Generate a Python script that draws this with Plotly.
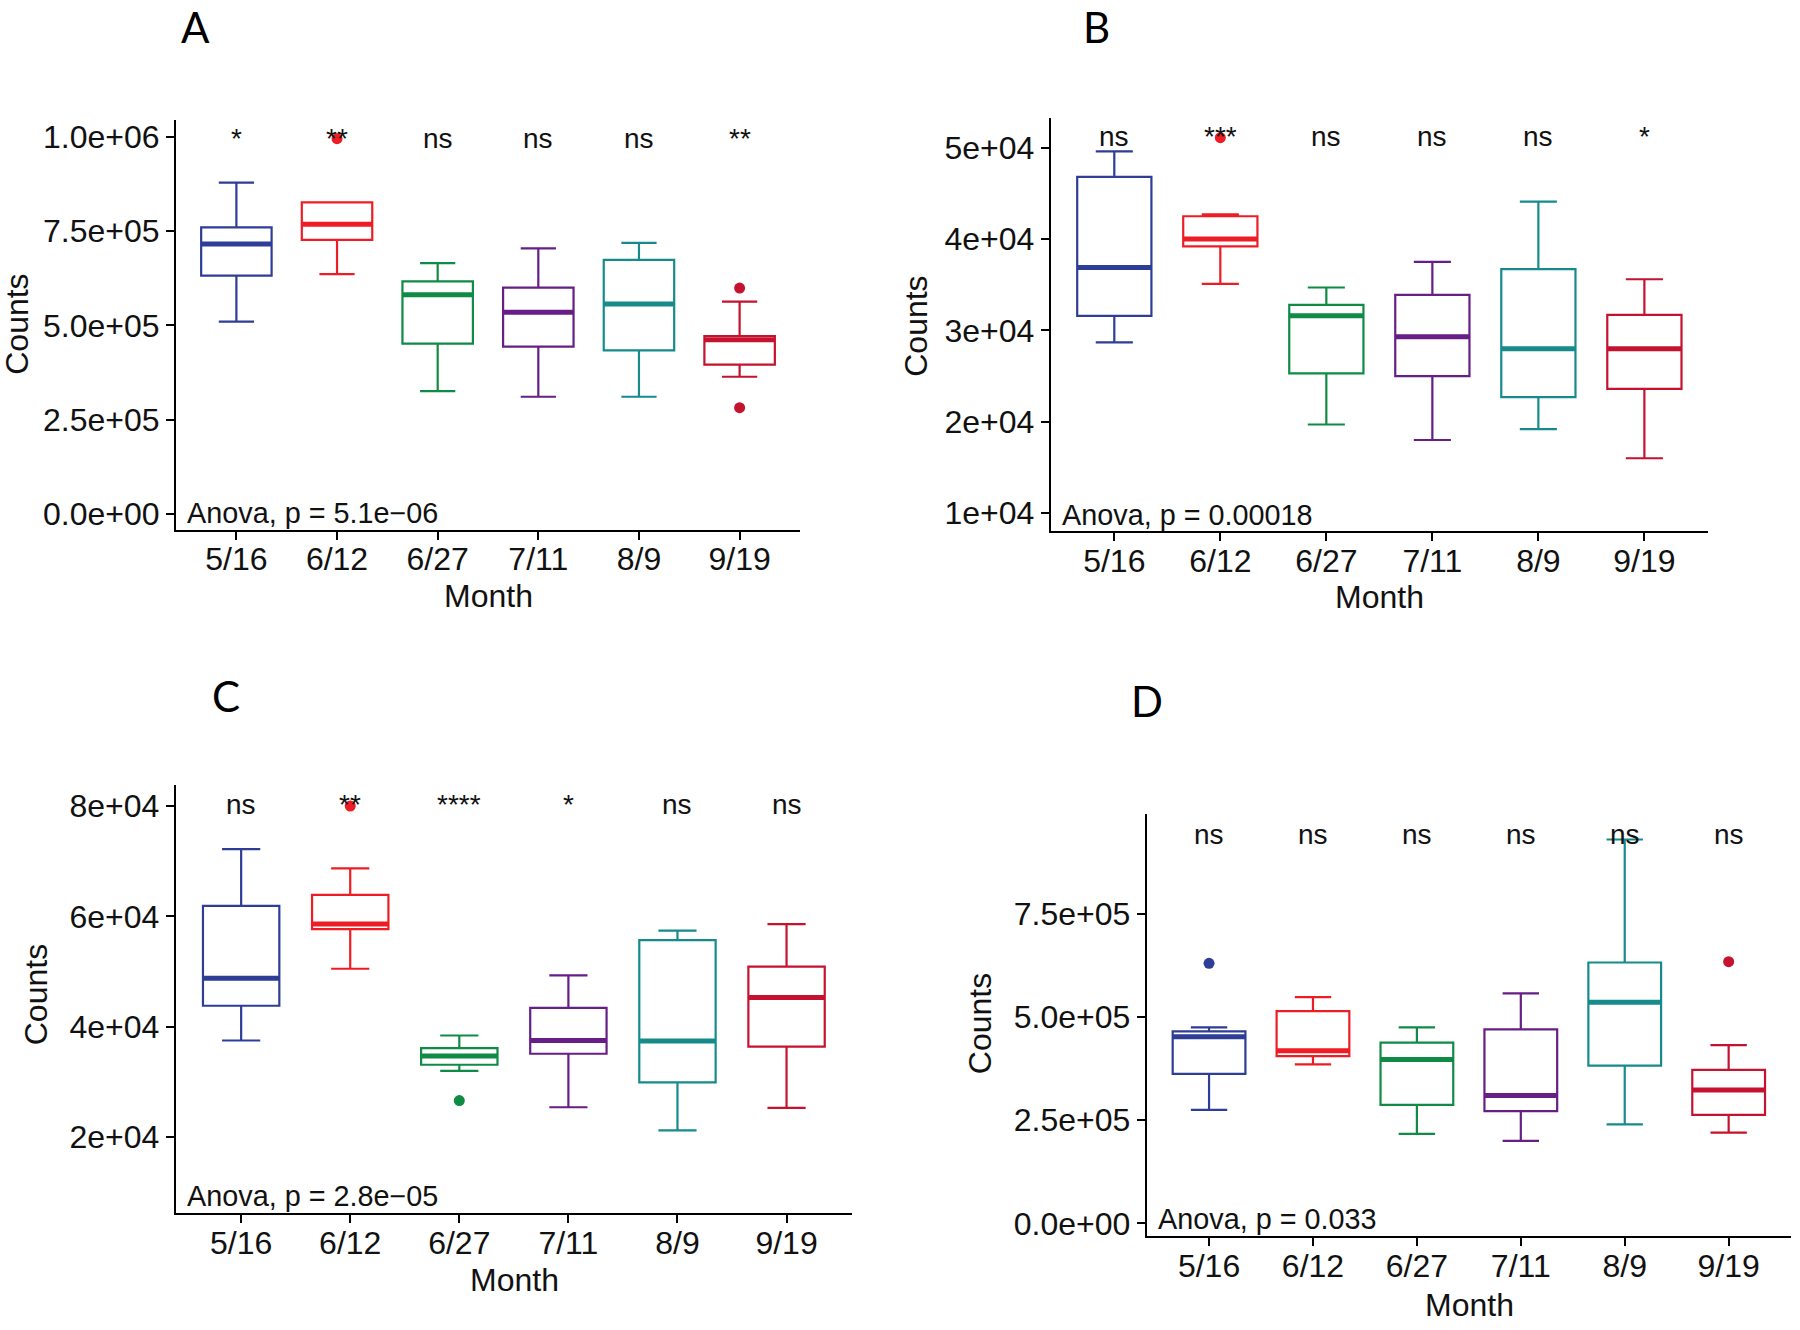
import plotly.graph_objects as go

# ---------------- data ----------------
months = ["5/16", "6/12", "6/27", "7/11", "8/9", "9/19"]
colors = ["#2E3D96", "#EE1C24", "#0F8B45", "#671E86", "#178B8B", "#C4122F"]

# Panel A
a_low = [0.510e6, 0.636e6, 0.326e6, 0.311e6, 0.311e6, 0.364e6]
a_q1 = [0.632e6, 0.727e6, 0.4515e6, 0.444e6, 0.434e6, 0.396e6]
a_med = [0.716e6, 0.768e6, 0.581e6, 0.535e6, 0.557e6, 0.462e6]
a_q3 = [0.760e6, 0.826e6, 0.617e6, 0.600e6, 0.674e6, 0.472e6]
a_high = [0.8785e6, 0.826e6, 0.665e6, 0.704e6, 0.719e6, 0.563e6]
a_out_month = ["6/12", "9/19", "9/19"]
a_out_val = [0.995e6, 0.599e6, 0.282e6]
a_sig = ["*", "**", "ns", "ns", "ns", "**"]
a_anova = "Anova, p = 5.1e\u221206"
a_ticks = [0, 2.5e5, 5.0e5, 7.5e5, 1.0e6]
a_ticktext = ["0.0e+00", "2.5e+05", "5.0e+05", "7.5e+05", "1.0e+06"]

# Panel B
b_low = [2.87e4, 3.51e4, 1.97e4, 1.80e4, 1.92e4, 1.60e4]
b_q1 = [3.16e4, 3.92e4, 2.53e4, 2.50e4, 2.27e4, 2.36e4]
b_med = [3.69e4, 4.00e4, 3.16e4, 2.93e4, 2.80e4, 2.80e4]
b_q3 = [4.68e4, 4.25e4, 3.28e4, 3.39e4, 3.67e4, 3.17e4]
b_high = [4.96e4, 4.27e4, 3.47e4, 3.75e4, 4.41e4, 3.56e4]
b_out_month = ["6/12"]
b_out_val = [5.11e4]
b_sig = ["ns", "***", "ns", "ns", "ns", "*"]
b_anova = "Anova, p = 0.00018"
b_ticks = [1e4, 2e4, 3e4, 4e4, 5e4]
b_ticktext = ["1e+04", "2e+04", "3e+04", "4e+04", "5e+04"]

# Panel C
c_low = [3.75e4, 5.05e4, 3.20e4, 2.54e4, 2.12e4, 2.53e4]
c_q1 = [4.38e4, 5.77e4, 3.31e4, 3.51e4, 2.99e4, 3.64e4]
c_med = [4.88e4, 5.86e4, 3.47e4, 3.75e4, 3.74e4, 4.53e4]
c_q3 = [6.19e4, 6.39e4, 3.61e4, 4.34e4, 5.57e4, 5.09e4]
c_high = [7.22e4, 6.87e4, 3.84e4, 4.93e4, 5.74e4, 5.86e4]
c_out_month = ["6/12", "6/27"]
c_out_val = [8.0e4, 2.66e4]
c_sig = ["ns", "**", "****", "*", "ns", "ns"]
c_anova = "Anova, p = 2.8e\u221205"
c_ticks = [2e4, 4e4, 6e4, 8e4]
c_ticktext = ["2e+04", "4e+04", "6e+04", "8e+04"]

# Panel D
d_low = [2.75e5, 3.85e5, 2.17e5, 2.00e5, 2.40e5, 2.20e5]
d_q1 = [3.62e5, 4.05e5, 2.87e5, 2.72e5, 3.82e5, 2.63e5]
d_med = [4.52e5, 4.18e5, 3.97e5, 3.10e5, 5.36e5, 3.23e5]
d_q3 = [4.65e5, 5.14e5, 4.38e5, 4.70e5, 6.32e5, 3.72e5]
d_high = [4.75e5, 5.48e5, 4.75e5, 5.57e5, 9.30e5, 4.32e5]
d_out_month = ["5/16", "9/19"]
d_out_val = [6.30e5, 6.34e5]
d_sig = ["ns", "ns", "ns", "ns", "ns", "ns"]
d_anova = "Anova, p = 0.033"
d_ticks = [0, 2.5e5, 5.0e5, 7.5e5]
d_ticktext = ["0.0e+00", "2.5e+05", "5.0e+05", "7.5e+05"]

# ---------------- layout config ----------------
W, H = 1800, 1330
FONT = "Liberation Sans"
TXT = "#111111"
TICK_SIZE = 32
TITLE_SIZE = 32
LABEL_SIZE = 28

panels = [
    dict(name="A", low=a_low, q1=a_q1, med=a_med, q3=a_q3, high=a_high,
         om=a_out_month, ov=a_out_val, sig=a_sig, anova=a_anova,
         ticks=a_ticks, ticktext=a_ticktext,
         xpx=(176, 800), ypx=(120, 531.7), yrange=(-41458, 1045700), sigy=0.969e6,
         letter=(195, 27), ytitle=(17, 326), xtitle=(488, 598)),
    dict(name="B", low=b_low, q1=b_q1, med=b_med, q3=b_q3, high=b_high,
         om=b_out_month, ov=b_out_val, sig=b_sig, anova=b_anova,
         ticks=b_ticks, ticktext=b_ticktext,
         xpx=(1050.7, 1708), ypx=(118, 533.3), yrange=(8004, 53305), sigy=5.018e4,
         letter=(1096, 27), ytitle=(916, 327), xtitle=(1379, 599)),
    dict(name="C", low=c_low, q1=c_q1, med=c_med, q3=c_q3, high=c_high,
         om=c_out_month, ov=c_out_val, sig=c_sig, anova=c_anova,
         ticks=c_ticks, ticktext=c_ticktext,
         xpx=(175.7, 852), ypx=(788, 1218), yrange=(6154, 83801), sigy=7.86e4,
         letter=(226, 699), ytitle=(36, 999), xtitle=(514, 1285)),
    dict(name="D", low=d_low, q1=d_q1, med=d_med, q3=d_q3, high=d_high,
         om=d_out_month, ov=d_out_val, sig=d_sig, anova=d_anova,
         ticks=d_ticks, ticktext=d_ticktext,
         xpx=(1146.7, 1791), ypx=(816.7, 1241), yrange=(-31454, 992700), sigy=0.920e6,
         letter=(1147, 704), ytitle=(980, 1027), xtitle=(1469, 1310)),
]

BOXW = 0.7
fig = go.Figure()
annotations = []
layout_axes = {}

for k, p in enumerate(panels):
    sfx = "" if k == 0 else str(k + 1)
    xa, ya = "x" + sfx, "y" + sfx
    idx = list(range(len(months)))
    for i, m in enumerate(months):
        fig.add_trace(go.Box(
            x=[i], q1=[p["q1"][i]], median=[p["med"][i]], q3=[p["q3"][i]],
            lowerfence=[p["low"][i]], upperfence=[p["high"][i]],
            width=BOXW, line=dict(color=colors[i], width=2.2),
            fillcolor="rgba(255,255,255,0)", boxpoints=False,
            showlegend=False, xaxis=xa, yaxis=ya, hoverinfo="skip"))
        # thick median line (ggplot style)
        fig.add_trace(go.Scatter(
            x=[i - BOXW / 2, i + BOXW / 2], y=[p["med"][i], p["med"][i]],
            mode="lines", line=dict(color=colors[i], width=5),
            showlegend=False, xaxis=xa, yaxis=ya, hoverinfo="skip"))
    # outliers
    ox = [months.index(m) for m in p["om"]]
    oc = [colors[j] for j in ox]
    fig.add_trace(go.Scatter(
        x=ox, y=p["ov"], mode="markers",
        marker=dict(color=oc, size=11, line=dict(width=0)),
        showlegend=False, xaxis=xa, yaxis=ya, hoverinfo="skip"))

    x0, x1 = p["xpx"]
    yt, yb = p["ypx"]
    layout_axes["xaxis" + sfx] = dict(
        domain=[x0 / W, x1 / W], anchor=ya, range=[-0.6, 5.6],
        tickvals=idx, ticktext=months, showline=True, linecolor="black",
        linewidth=2, ticks="outside", ticklen=8, tickwidth=2, tickcolor="black",
        showgrid=False, zeroline=False, fixedrange=True, ticklabelstandoff=-8,
        tickfont=dict(family=FONT, size=TICK_SIZE, color=TXT))
    layout_axes["yaxis" + sfx] = dict(
        domain=[1 - yb / H, 1 - yt / H], anchor=xa, range=list(p["yrange"]),
        tickvals=p["ticks"], ticktext=p["ticktext"], showline=True,
        linecolor="black", linewidth=2, ticks="outside", ticklen=8, tickwidth=2,
        tickcolor="black", showgrid=False, zeroline=False, fixedrange=True,
        tickfont=dict(family=FONT, size=TICK_SIZE, color=TXT))

    # significance labels
    for i, s in enumerate(p["sig"]):
        annotations.append(dict(
            x=i, y=p["sigy"], xref=xa, yref=ya, text=s, showarrow=False,
            xanchor="center", yanchor="bottom", yshift=-8,
            font=dict(family=FONT, size=LABEL_SIZE, color=TXT)))
    # anova label
    annotations.append(dict(
        x=0.014, y=0.04, xref=xa + " domain", yref=ya + " domain",
        text=p["anova"], showarrow=False, xanchor="left", yanchor="middle",
        font=dict(family=FONT, size=28.8, color=TXT)))
    # axis titles
    annotations.append(dict(
        x=p["ytitle"][0] / W, y=1 - p["ytitle"][1] / H, xref="paper", yref="paper",
        text="Counts", textangle=-90, showarrow=False, xanchor="center",
        yanchor="middle", font=dict(family=FONT, size=TITLE_SIZE, color=TXT)))
    annotations.append(dict(
        x=p["xtitle"][0] / W, y=1 - p["xtitle"][1] / H, xref="paper", yref="paper",
        text="Month", showarrow=False, xanchor="center", yanchor="middle",
        font=dict(family=FONT, size=TITLE_SIZE, color=TXT)))
    # panel letter
    annotations.append(dict(
        x=p["letter"][0] / W, y=1 - p["letter"][1] / H, xref="paper", yref="paper",
        text=p["name"], showarrow=False, xanchor="center", yanchor="middle",
        font=dict(family="Lato", size=42, color="black")))

fig.update_layout(
    width=W, height=H, margin=dict(l=0, r=0, t=0, b=0),
    paper_bgcolor="white", plot_bgcolor="white",
    annotations=annotations, showlegend=False, **layout_axes)

fig.write_html("out.html", config={"displayModeBar": False},
               post_script="document.body.style.margin='0';")
